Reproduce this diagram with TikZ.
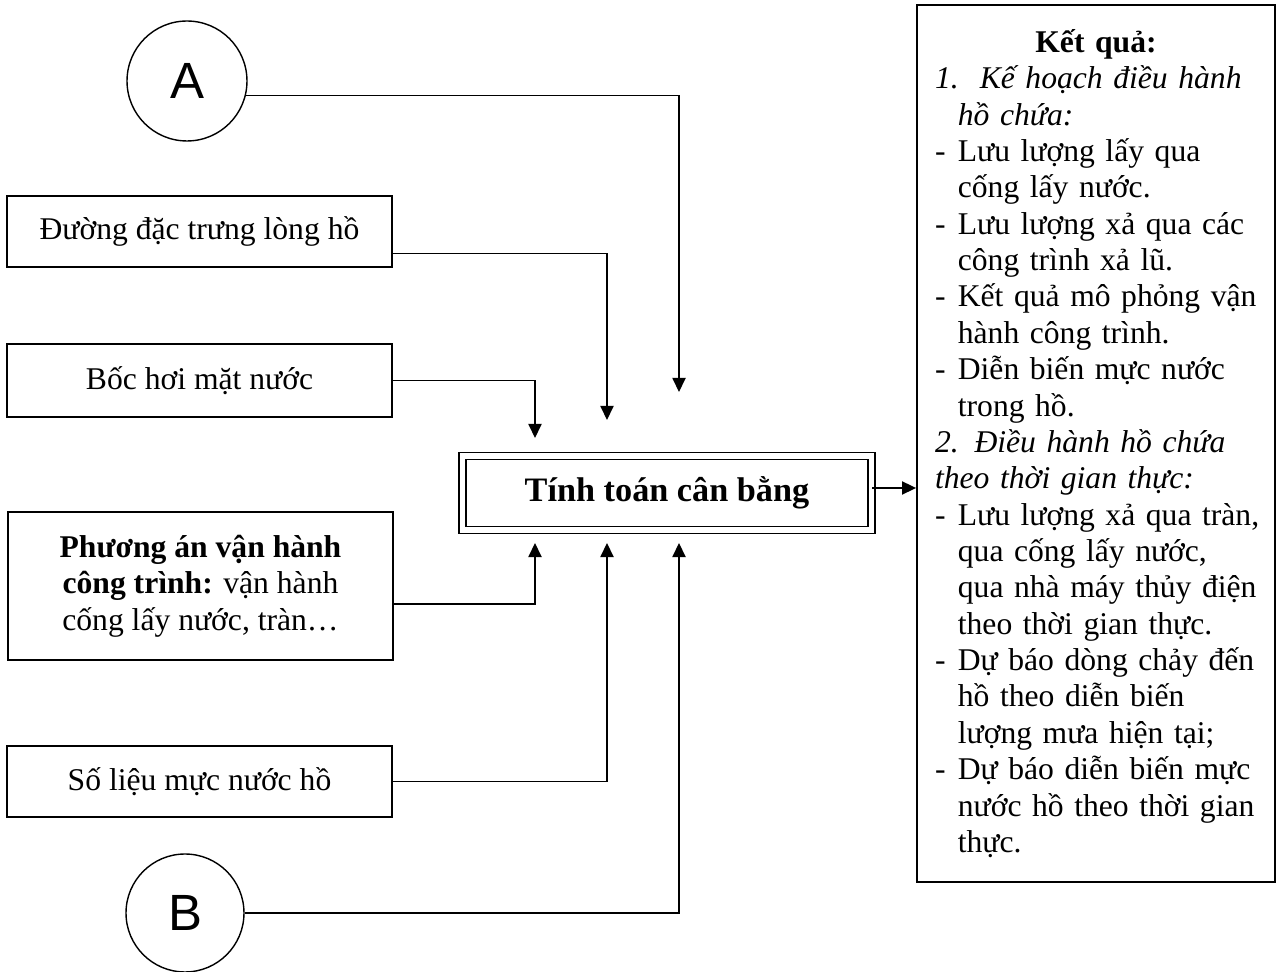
\documentclass[tikz,border=0pt]{standalone}
\usepackage{fontspec}
\setmainfont{Liberation Serif}
\newfontfamily\circfont{Liberation Sans}
\usetikzlibrary{arrows.meta}
\setlength{\parindent}{0pt}
\newcommand{\dashitem}[1]{\mbox{\makebox[13pt][l]{-}#1}}
\newcommand{\hangline}[1]{\mbox{\hspace*{13pt}#1}}

\begin{document}
\begin{tikzpicture}[x=0.02cm,y=-0.02cm,-,>={Triangle[length=8pt,width=7.5pt]},line width=0.8pt,
  input node/.style={draw,rectangle,line width=0.9pt,minimum width=7.7cm,align=center,font=\fontsize{18}{20.7}\selectfont},
  point node/.style={draw,circle,line width=0.8pt,minimum size=2.4cm,inner sep=0pt,font=\circfont\fontsize{29}{30}\selectfont},
  calc node/.style={draw,double,double distance=3pt,line width=0.9pt,minimum width=8.18cm,minimum height=1.48cm,font=\fontsize{19.5}{22}\selectfont\bfseries},
  result node/.style={draw,line width=1.1pt,minimum height=17.54cm,text width=6.44cm,inner xsep=0.36cm,align=left,font=\fontsize{18}{20.7}\selectfont}]
  \useasboundingbox (0,0) rectangle (1276,972);

  \node[point node] (A) at (187,81) {A};
  \node[input node,minimum height=1.42cm] (duong) at (199.5,231.5) {Đường đặc trưng lòng hồ};
  \node[input node,minimum height=1.46cm] (bochoi) at (199.5,380.5) {Bốc hơi mặt nước};
  \node[input node,minimum height=2.96cm] (phuongan) at (200.5,586) {\textbf{Phương án vận hành}\\\textbf{công trình:} vận hành\\cống lấy nước, tràn…};
  \node[input node,minimum height=1.42cm] (solieu) at (199.5,781.5) {Số liệu mực nước hồ};
  \node[point node,minimum size=2.36cm] (B) at (185,913) {B};
  \node[calc node] (calc) at (667,493) {Tính toán cân bằng};
  \node[result node] (result) at (1096,443.5) {{\centering\textbf{Kết quả:}\par}
    \raggedright
    \mbox{\textit{1.\ \ Kế hoạch điều hành}}\\
    \hangline{\textit{hồ chứa:}}\\
    \dashitem{Lưu lượng lấy qua}\\
    \hangline{cống lấy nước.}\\
    \dashitem{Lưu lượng xả qua các}\\
    \hangline{công trình xả lũ.}\\
    \dashitem{Kết quả mô phỏng vận}\\
    \hangline{hành công trình.}\\
    \dashitem{Diễn biến mực nước}\\
    \hangline{trong hồ.}\\
    \mbox{\textit{2. Điều hành hồ chứa}}\\
    \mbox{\textit{theo thời gian thực:}}\\
    \dashitem{Lưu lượng xả qua tràn,}\\
    \hangline{qua cống lấy nước,}\\
    \hangline{qua nhà máy thủy điện}\\
    \hangline{theo thời gian thực.}\\
    \dashitem{Dự báo dòng chảy đến}\\
    \hangline{hồ theo diễn biến}\\
    \hangline{lượng mưa hiện tại;}\\
    \dashitem{Dự báo diễn biến mực}\\
    \hangline{nước hồ theo thời gian}\\
    \hangline{thực.}};

  \coordinate (top1) at (535,438);
  \coordinate (top2) at (607,420);
  \coordinate (top3) at (679,392);
  \coordinate (bot1) at (535,543);
  \coordinate (bot2) at (607,543);
  \coordinate (bot3) at (679,543);

  \draw[->] (A.-14) -| (top3);
  \draw[->] ([yshift=-0.44cm]duong.east) -| (top2);
  \draw[->] (bochoi.east) -| (top1);
  \draw[->] ([yshift=-0.36cm]phuongan.east) -| (bot1);
  \draw[->] (solieu.east) -| (bot2);
  \draw[->] (B.east) -| (bot3);
  \draw[->] ([yshift=0.1cm]calc.east) -- ([yshift=0.1cm]calc.east -| result.west);
\end{tikzpicture}
\end{document}
